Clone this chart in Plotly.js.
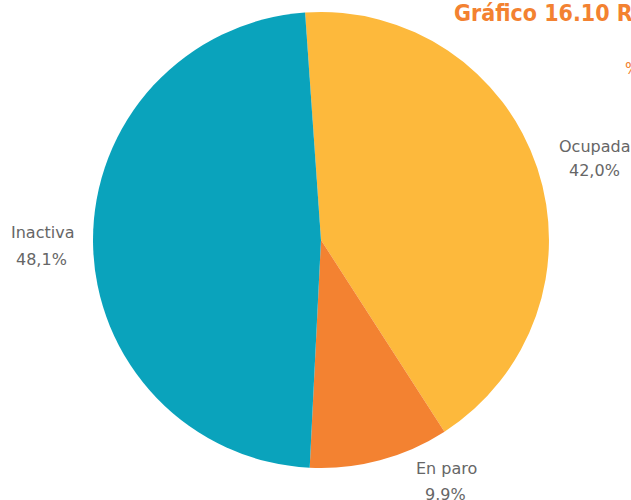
<!DOCTYPE html>
<html>
<head>
<meta charset="utf-8">
<script src="https://cdn.plot.ly/plotly-3.0.1.min.js"></script>
<style>html,body{margin:0;padding:0;background:#fff;}#chart{width:631px;height:500px;}</style>
</head>
<body>
<div id="chart"></div>
<script>
const categories = ["Ocupada", "En paro", "Inactiva"];
const values = [42.0, 9.9, 48.1];
const valueLabels = ["42,0%", "9.9%", "48,1%"];
const colors = ["#FDB93C", "#F38231", "#0AA3BC"];
const titleText = "Gráfico 16.10 R";

const W = 631, H = 500;
// label anchor positions in pixels (layout only): [name line, value line]
const labelPos = [
  [[594, 146], [594, 170.5]],
  [[446, 468], [445, 494.5]],
  [[42, 233], [41, 259.5]]
];

const trace = {
  type: "pie",
  labels: categories,
  values: values,
  text: valueLabels,
  textinfo: "none",
  hoverinfo: "label+text",
  sort: false,
  direction: "clockwise",
  rotation: -4,
  marker: { colors: colors, line: { width: 0 } },
  domain: { x: [0.1474, 0.8700], y: [0.064, 0.976] },
  showlegend: false
};

const labelFont = { family: "DejaVu Sans", size: 16, color: "#666666" };
const annotations = [];
categories.forEach((c, i) => {
  const lines = [c, valueLabels[i]];
  lines.forEach((t, j) => {
    annotations.push({
      text: t, xref: "paper", yref: "paper",
      x: labelPos[i][j][0] / W, y: 1 - labelPos[i][j][1] / H,
      xanchor: "center", yanchor: "middle", showarrow: false,
      font: labelFont
    });
  });
});
annotations.push(
  { text: "<b>" + titleText + "</b>", xref: "paper", yref: "paper", x: 452/W, y: 1 + 2/H,
    xanchor: "left", yanchor: "top", showarrow: false,
    font: { family: "DejaVu Sans Condensed", size: 23, color: "#F38231" } },
  { text: "%", xref: "paper", yref: "paper", x: 623/W, y: 1 - 58/H,
    xanchor: "left", yanchor: "top", showarrow: false,
    font: { family: "DejaVu Sans", size: 15, color: "#F38231" } }
);

const layout = {
  width: W, height: H,
  margin: { l: 0, r: 0, t: 0, b: 0 },
  paper_bgcolor: "#ffffff",
  showlegend: false,
  annotations: annotations
};

Plotly.newPlot("chart", [trace], layout, { displayModeBar: false, staticPlot: true });
</script>
</body>
</html>
